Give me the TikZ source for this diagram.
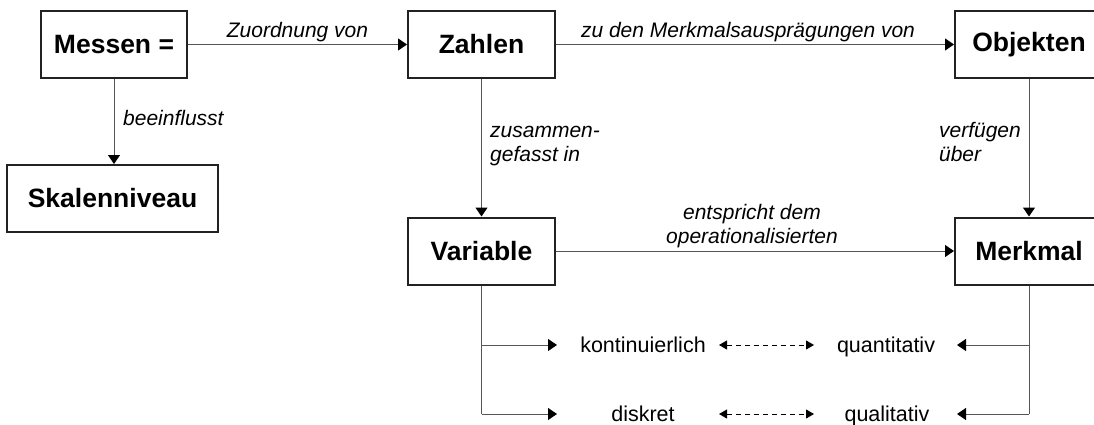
\documentclass[tikz,border=0pt]{standalone}
\usepackage{fontspec}
\setmainfont{Liberation Sans}
\usetikzlibrary{arrows.meta}
\definecolor{boxc}{HTML}{222222}
\definecolor{linec}{HTML}{555555}
\begin{document}
\begin{tikzpicture}[x=1pt,y=-1pt,
  box/.style={draw=boxc, line width=2pt, minimum height=67pt, inner sep=0pt,
    font=\fontsize{26.5}{30}\selectfont\bfseries},
  lab/.style={font=\fontsize{21}{24}\selectfont\itshape, inner sep=0pt},
  val/.style={font=\fontsize{21.5}{24}\selectfont, inner sep=0pt, anchor=base},
  conn/.style={draw=linec, line width=1pt, -{Triangle[length=9pt,width=12pt,color=black]}},
  plainline/.style={draw=linec, line width=1pt},
  dconn/.style={draw=black, line width=1pt, dash pattern=on 5pt off 4pt,
    {Triangle[length=8pt,width=9pt]}-{Triangle[length=8pt,width=9pt]}}]
\useasboundingbox (0,0) rectangle (1094,425);
% boxes
\node[box, minimum width=146pt] (messen) at (114,44.5) {Messen =};
\node[box, minimum width=147pt] (zahlen) at (481.5,44.5) {Zahlen};
\node[box, minimum width=148pt] (objekten) at (1029,44.5) {Objekten};
\node[box, minimum width=211pt] (skala) at (112.5,198.5) {Skalenniveau};
\node[box, minimum width=147pt] (variable) at (481.5,251) {Variable};
\node[box, minimum width=148pt] (merkmal) at (1029,251) {Merkmal};
% main connectors
\draw[conn] (messen) -- (zahlen);
\draw[conn] (zahlen) -- (objekten);
\draw[conn] (messen.south) -- (messen.south |- skala.north);
\draw[conn] (zahlen) -- (variable);
\draw[conn] (objekten) -- (merkmal);
\draw[conn] (variable) -- (merkmal);
% labels
\node[lab, anchor=base] (l1) at (297.5,38) {Zuordnung von};
\node[lab, anchor=base] (l2) at (748,38) {zu den Merkmalsausprägungen von};
\node[lab, anchor=base west] (l3) at (123,125) {beeinflusst};
\node[lab, anchor=base west, align=left] (l4) at (490,161) {zusammen-\\gefasst in};
\node[lab, anchor=base east, align=left] (l5) at (1021,161) {verfügen\\über};
\node[lab, anchor=base, align=center] (l6) at (752,243) {entspricht dem\\operationalisierten};
% bottom values
\node[val] (kont) at (643,352.5) {kontinuierlich};
\node[val] (disk) at (643,421.5) {diskret};
\node[val] (quant) at (886,352.5) {quantitativ};
\node[val] (qual) at (887,421.5) {qualitativ};
\coordinate (vb1) at (481.5,345);
\coordinate (vb2) at (481.5,414);
\coordinate (va1) at (557,345);
\coordinate (va2) at (557,414);
\coordinate (mb1) at (1029,345);
\coordinate (mb2) at (1029,414);
\coordinate (ma1) at (957,345);
\coordinate (ma2) at (957,414);
\draw[plainline] (variable.south) -- (vb2);
\draw[conn] (vb1) -- (va1);
\draw[conn] (vb2) -- (va2);
\draw[plainline] (merkmal.south) -- (mb2);
\draw[conn] (mb1) -- (ma1);
\draw[conn] (mb2) -- (ma2);
\coordinate (d1a) at (719,345);
\coordinate (d1b) at (814,345);
\coordinate (d2a) at (719,414);
\coordinate (d2b) at (814,414);
\draw[dconn] (d1a) -- (d1b);
\draw[dconn] (d2a) -- (d2b);
\end{tikzpicture}
\end{document}
